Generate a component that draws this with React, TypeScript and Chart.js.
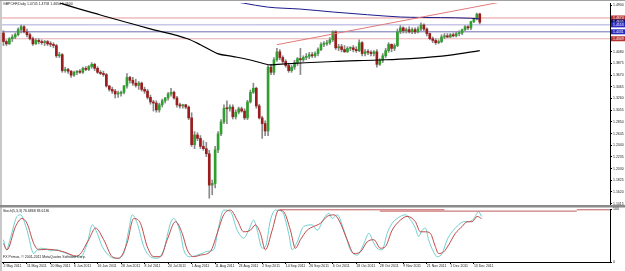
import React, { useEffect, useRef } from "react";
import { Chart, registerables } from "chart.js";

Chart.register(...registerables);

const FONT = "'Liberation Sans', Arial, sans-serif";
const TEXT = "#1a1a1a";
const FS = 3.5;

// ---- Daily candles (bar index 0 = 2 May 2011) ----
const barOpen = [
  1.441, 1.426, 1.422, 1.431, 1.434, 1.438, 1.447, 1.452, 1.443, 1.438,
  1.431, 1.422, 1.428, 1.426, 1.424, 1.426, 1.422, 1.421, 1.419, 1.401,
  1.403, 1.375, 1.377, 1.374, 1.367, 1.372, 1.374, 1.372, 1.379, 1.377,
  1.382, 1.386, 1.379, 1.372, 1.370, 1.368, 1.348, 1.342, 1.339, 1.334,
  1.335, 1.337, 1.348, 1.363, 1.358, 1.353, 1.349, 1.353, 1.342, 1.339,
  1.328, 1.320, 1.318, 1.306, 1.315, 1.322, 1.327, 1.334, 1.337, 1.327,
  1.315, 1.313, 1.315, 1.311, 1.292, 1.245, 1.262, 1.256, 1.242, 1.238,
  1.229, 1.174, 1.177, 1.236, 1.264, 1.285, 1.309, 1.308, 1.311, 1.294,
  1.302, 1.308, 1.304, 1.292, 1.320, 1.337, 1.344, 1.313, 1.292, 1.282,
  1.269, 1.381, 1.372, 1.394, 1.408, 1.398, 1.391, 1.384, 1.375, 1.381,
  1.389, 1.396, 1.394, 1.398, 1.400, 1.403, 1.401, 1.405, 1.412, 1.421,
  1.422, 1.424, 1.429, 1.443, 1.415, 1.417, 1.412, 1.408, 1.414, 1.415,
  1.412, 1.410, 1.424, 1.405, 1.408, 1.407, 1.405, 1.408, 1.386, 1.393,
  1.401, 1.410, 1.421, 1.414, 1.419, 1.443, 1.450, 1.445, 1.447, 1.443,
  1.447, 1.443, 1.448, 1.455, 1.448, 1.440, 1.431, 1.428, 1.424, 1.426,
  1.434, 1.436, 1.434, 1.438, 1.436, 1.440, 1.441, 1.447, 1.452, 1.450,
  1.461, 1.466, 1.4745,
];
const barHigh = [
  1.445, 1.429, 1.433, 1.438, 1.441, 1.450, 1.455, 1.454, 1.448, 1.441,
  1.434, 1.431, 1.431, 1.429, 1.428, 1.428, 1.426, 1.424, 1.421, 1.407,
  1.405, 1.381, 1.379, 1.375, 1.374, 1.375, 1.377, 1.381, 1.382, 1.384,
  1.389, 1.388, 1.382, 1.375, 1.374, 1.370, 1.349, 1.346, 1.342, 1.339,
  1.339, 1.349, 1.370, 1.365, 1.363, 1.360, 1.356, 1.355, 1.346, 1.342,
  1.332, 1.323, 1.322, 1.318, 1.325, 1.328, 1.337, 1.344, 1.339, 1.330,
  1.318, 1.316, 1.316, 1.313, 1.301, 1.268, 1.266, 1.261, 1.252, 1.249,
  1.235, 1.183, 1.242, 1.268, 1.289, 1.315, 1.322, 1.315, 1.315, 1.306,
  1.311, 1.311, 1.308, 1.323, 1.341, 1.353, 1.346, 1.316, 1.295, 1.287,
  1.384, 1.386, 1.398, 1.414, 1.412, 1.401, 1.394, 1.388, 1.384, 1.393,
  1.398, 1.414, 1.401, 1.405, 1.407, 1.407, 1.408, 1.415, 1.424, 1.426,
  1.428, 1.433, 1.445, 1.445, 1.421, 1.421, 1.419, 1.417, 1.417, 1.419,
  1.417, 1.429, 1.426, 1.412, 1.412, 1.410, 1.410, 1.412, 1.396, 1.405,
  1.414, 1.424, 1.422, 1.422, 1.448, 1.454, 1.452, 1.450, 1.452, 1.450,
  1.450, 1.452, 1.459, 1.457, 1.450, 1.441, 1.434, 1.431, 1.429, 1.438,
  1.440, 1.440, 1.440, 1.441, 1.443, 1.445, 1.448, 1.454, 1.454, 1.462,
  1.467, 1.476, 1.4758,
];
const barLow = [
  1.419, 1.419, 1.421, 1.426, 1.431, 1.436, 1.441, 1.441, 1.434, 1.429,
  1.419, 1.421, 1.422, 1.421, 1.419, 1.419, 1.417, 1.415, 1.398, 1.398,
  1.372, 1.372, 1.370, 1.363, 1.365, 1.368, 1.370, 1.370, 1.375, 1.375,
  1.379, 1.375, 1.370, 1.368, 1.365, 1.346, 1.339, 1.335, 1.327, 1.328,
  1.330, 1.334, 1.344, 1.353, 1.349, 1.346, 1.342, 1.339, 1.335, 1.325,
  1.316, 1.304, 1.302, 1.302, 1.311, 1.318, 1.323, 1.330, 1.325, 1.311,
  1.309, 1.309, 1.308, 1.289, 1.242, 1.238, 1.252, 1.238, 1.235, 1.224,
  1.151, 1.157, 1.169, 1.231, 1.261, 1.282, 1.282, 1.304, 1.290, 1.290,
  1.299, 1.302, 1.289, 1.289, 1.318, 1.335, 1.309, 1.290, 1.256, 1.261,
  1.261, 1.368, 1.368, 1.391, 1.394, 1.388, 1.381, 1.372, 1.372, 1.377,
  1.384, 1.368, 1.391, 1.394, 1.396, 1.398, 1.398, 1.401, 1.410, 1.417,
  1.419, 1.421, 1.426, 1.412, 1.410, 1.408, 1.407, 1.407, 1.410, 1.408,
  1.407, 1.408, 1.401, 1.401, 1.403, 1.401, 1.401, 1.381, 1.384, 1.389,
  1.398, 1.407, 1.408, 1.410, 1.417, 1.440, 1.441, 1.441, 1.441, 1.440,
  1.440, 1.441, 1.445, 1.445, 1.436, 1.429, 1.424, 1.421, 1.422, 1.424,
  1.431, 1.433, 1.433, 1.434, 1.434, 1.436, 1.438, 1.445, 1.447, 1.447,
  1.459, 1.464, 1.4570,
];
const barClose = [
  1.426, 1.422, 1.431, 1.434, 1.438, 1.447, 1.452, 1.443, 1.438, 1.431,
  1.422, 1.428, 1.426, 1.424, 1.426, 1.422, 1.421, 1.419, 1.401, 1.403,
  1.375, 1.377, 1.374, 1.367, 1.372, 1.374, 1.372, 1.379, 1.377, 1.382,
  1.386, 1.379, 1.372, 1.370, 1.368, 1.348, 1.342, 1.339, 1.334, 1.335,
  1.337, 1.348, 1.363, 1.358, 1.353, 1.349, 1.353, 1.342, 1.339, 1.328,
  1.320, 1.318, 1.306, 1.315, 1.322, 1.327, 1.334, 1.337, 1.327, 1.315,
  1.313, 1.315, 1.311, 1.292, 1.245, 1.262, 1.256, 1.242, 1.238, 1.229,
  1.174, 1.177, 1.236, 1.264, 1.285, 1.309, 1.308, 1.311, 1.294, 1.302,
  1.308, 1.304, 1.292, 1.320, 1.337, 1.344, 1.313, 1.292, 1.282, 1.269,
  1.381, 1.372, 1.394, 1.408, 1.398, 1.391, 1.384, 1.375, 1.381, 1.389,
  1.396, 1.394, 1.398, 1.400, 1.403, 1.401, 1.405, 1.412, 1.421, 1.422,
  1.424, 1.429, 1.443, 1.415, 1.417, 1.412, 1.408, 1.414, 1.415, 1.412,
  1.410, 1.424, 1.405, 1.408, 1.407, 1.405, 1.408, 1.386, 1.393, 1.401,
  1.410, 1.421, 1.414, 1.419, 1.443, 1.450, 1.445, 1.447, 1.443, 1.447,
  1.443, 1.448, 1.455, 1.448, 1.440, 1.431, 1.428, 1.424, 1.426, 1.434,
  1.436, 1.434, 1.438, 1.436, 1.440, 1.441, 1.447, 1.452, 1.450, 1.461,
  1.466, 1.474, 1.4600,
];

// ---- Moving averages / drawn objects (bar index, price) ----
const blackMaBars = [16.7, 19.4, 33, 50, 62.6, 67, 72.8, 78.2, 84, 88.4, 90.8, 93.2, 112.2, 127.2, 138.4, 152, 162];
const blackMaVals = [1.4987, 1.4935, 1.4726, 1.4483, 1.4309, 1.4205, 1.4049, 1.3997, 1.3936, 1.3875, 1.3849, 1.3858, 1.391, 1.3936, 1.3962, 1.4023, 1.4101];
const blueMaBars = [75.5, 81.6, 89.8, 101, 112.2, 123.8, 135, 138.4, 158.8, 162];
const blueMaVals = [1.4987, 1.4935, 1.4865, 1.483, 1.4778, 1.4731, 1.4691, 1.4686, 1.4669, 1.4657];
const trendBars = [93, 175];
const trendVals = [1.4205, 1.5011];

const levelVals = [1.4674, 1.4553, 1.4431, 1.4309];
const levelColors = ["#e59a9a", "#a9a9dc", "#6c6cb4", "#e8b0b0"];
const markerVals = [1.4674, 1.4605, 1.4553, 1.4431, 1.4309];
const markerColors = ["#b83232", "#101070", "#2a2ac0", "#2a2ac0", "#b83232"];

const priceTicks = [1.49, 1.408, 1.3875, 1.367, 1.3465, 1.326, 1.3055, 1.285, 1.2645, 1.244, 1.2235, 1.203, 1.1825, 1.162, 1.1415];

// ---- Date axis ----
const dateLabels = [
  "2 May 2011", "11 May 2011", "20 May 2011", "6 Jun 2011", "16 Jun 2011", "28 Jun 2011",
  "8 Jul 2011", "20 Jul 2011", "1 Aug 2011", "11 Aug 2011", "23 Aug 2011", "2 Sep 2011",
  "14 Sep 2011", "26 Sep 2011", "6 Oct 2011", "18 Oct 2011", "28 Oct 2011", "9 Nov 2011",
  "21 Nov 2011", "1 Dec 2011", "13 Dec 2011",
];
const dateTickBars = [0, 8, 16, 24, 32, 40, 48, 56, 64, 72, 80, 88, 96, 104, 112, 120, 128, 136, 144, 152, 160];

// ---- Stochastic (5,3,3) ----
const stochKBars = [0, 1, 2.5, 4.6, 5.8, 8, 10.3, 11.5, 12.6, 14.9, 16, 18.3, 20, 21.7, 24, 26.2, 28.5, 30.2, 31.9, 33.6, 36.4, 38.7, 40.9, 42.6, 43.8, 45.5, 47.7, 50, 52.3, 54.5, 56.8, 57.9, 60.2, 61.3, 63.6, 65.9, 67.5, 69.3, 71.5, 73.2, 74.9, 77.2, 79.5, 81.7, 83.4, 85.1, 86.3, 88, 89.1, 90.8, 92.5, 94.8, 97, 98.2, 99.9, 102.1, 105, 106.7, 109, 110.7, 111.8, 113.5, 115.8, 118, 120.3, 122.6, 124.3, 126, 127.1, 128.8, 130.5, 132.2, 135, 136.7, 138.4, 140.1, 141.2, 142.4, 143.5, 144.6, 146.3, 147.5, 149.2, 150.9, 152.6, 154.8, 156.5, 158.2, 160, 161.6, 162.6];
const stochKVals = [42, 23, 48, 86, 89, 60, 16, 23, 26, 24, 21, 23, 19, 16, 10, 10, 35, 70, 54, 29, 10, 7, 16, 60, 89, 73, 29, 10, 7, 23, 73, 82, 54, 23, 10, 13, 16, 20, 23, 67, 98, 95, 60, 45, 60, 79, 60, 26, 29, 79, 98, 95, 54, 23, 38, 67, 70, 60, 82, 92, 82, 89, 60, 23, 13, 35, 54, 35, 26, 23, 54, 73, 86, 89, 80, 64, 48, 60, 64, 42, 19, 10, 16, 42, 57, 70, 76, 76, 82, 95, 86];
const stochDBars = [0, 1.2, 4.1, 6.3, 8, 10.3, 12, 14.9, 20, 25, 29, 31.3, 34.1, 37, 39.2, 42, 44.3, 46.6, 48.9, 51.1, 53.4, 55.7, 58.5, 60.8, 62.5, 64.7, 67, 70.4, 72.7, 74.9, 77.2, 79.5, 81.7, 84, 85.7, 87.4, 89.1, 91.4, 93.6, 95.3, 97.6, 99.3, 101, 103.3, 105.5, 107.8, 110.1, 112.4, 114.1, 116.9, 119.2, 121.4, 123.7, 126, 128.2, 129.9, 132.2, 135, 137.3, 140.1, 141.8, 143.5, 145.2, 146.9, 148, 149.7, 151.4, 153.7, 156, 157.7, 159.4, 161.1, 162.6];
const stochDVals = [35, 23, 67, 82, 73, 35, 23, 24, 20, 11, 42, 64, 42, 10, 7, 35, 82, 73, 29, 10, 10, 42, 76, 54, 23, 10, 13, 20, 54, 89, 98, 79, 57, 60, 70, 54, 23, 60, 98, 95, 60, 26, 42, 60, 67, 73, 86, 89, 79, 42, 16, 19, 38, 42, 26, 29, 60, 79, 86, 76, 57, 57, 54, 29, 16, 19, 32, 54, 67, 76, 76, 86, 82];
const stochLineBars = [[94, 150], [128, 195], [195, 206.3]];
const stochLineVals = [[98.5, 98.5], [96, 96], [98.5, 98.5]];

const titleMain = "GBPCHF,Daily 1.4745 1.4758 1.4654 1.4600";
const titleStoch = "Stoch(5,3,3) 76.6868 83.6136";
const copyright = "FX Primus, \u00A9 2001-2011 MetaQuotes Software Corp.";

const X_MIN = -0.5;
const X_MAX = 206.3;
const Y_MIN = 1.1391;
const Y_MAX = 1.4935;

const GREEN = "#2f9f2f";
const RED = "#9b1c1c";
const WICK = "#8a8a8a";

const pts = (xs: number[], ys: number[]) => xs.map((x, i) => ({ x, y: ys[i] }));

export default function App() {
  const mainRef = useRef<HTMLCanvasElement>(null);
  const subRef = useRef<HTMLCanvasElement>(null);

  useEffect(() => {
    document.body.style.margin = "0";
    const font = { family: FONT, size: FS };

    const wickData = barOpen.map((_, i) => ({ x: i, y: [barLow[i], barHigh[i]] }));
    const bodyData = barOpen.map((o, i) => ({ x: i, y: [o, barClose[i]] }));
    const bodyColors = barOpen.map((o, i) => (barClose[i] >= o ? GREEN : RED));

    const frame = {
      id: "frame",
      beforeDraw(chart: any) {
        const ctx = chart.ctx;
        ctx.save();
        ctx.fillStyle = "#ffffff";
        ctx.fillRect(0, 0, chart.width, chart.height);
        ctx.fillStyle = "#c8c8c8";
        ctx.fillRect(0, 0, 2, chart.height);
        ctx.restore();
      },
    };

    const mainDeco = {
      id: "mainDeco",
      beforeDraw(chart: any) {
        const ctx = chart.ctx;
        ctx.save();
        ctx.fillStyle = "#a0a0a0";
        ctx.fillRect(0, 0, chart.width, 1);
        ctx.restore();
      },
      afterDraw(chart: any) {
        const ctx = chart.ctx;
        const ys = chart.scales.y;
        ctx.save();
        ctx.font = `${FS}px ${FONT}`;
        ctx.textBaseline = "top";
        ctx.fillStyle = TEXT;
        ctx.fillText(titleMain, 3, 2);
        ctx.textBaseline = "middle";
        markerVals.forEach((v, i) => {
          const py = ys.getPixelForValue(v);
          ctx.fillStyle = markerColors[i];
          ctx.fillRect(ys.left + 1, py - 2.5, 14, 5);
          ctx.fillStyle = "#ffffff";
          ctx.fillText(v.toFixed(4), ys.left + 3, py + 0.3);
        });
        ctx.restore();
      },
    };

    const main = new Chart(mainRef.current as HTMLCanvasElement, {
      type: "bar",
      data: {
        datasets: [
          ...levelVals.map((v, i) => ({
            type: "line" as const,
            data: [{ x: X_MIN, y: v }, { x: X_MAX, y: v }],
            borderColor: levelColors[i],
            borderWidth: 1,
            pointRadius: 0,
            order: 5,
          })),
          {
            type: "bar" as const,
            data: wickData as any,
            backgroundColor: WICK,
            barThickness: 1,
            grouped: false,
            order: 4,
          },
          {
            type: "bar" as const,
            data: bodyData as any,
            backgroundColor: bodyColors,
            barThickness: 2,
            minBarLength: 1,
            grouped: false,
            order: 3,
          },
          {
            type: "line" as const,
            data: pts(blackMaBars, blackMaVals),
            borderColor: "#000000",
            borderWidth: 1.2,
            pointRadius: 0,
            cubicInterpolationMode: "monotone",
            order: 2,
          },
          {
            type: "line" as const,
            data: pts(blueMaBars, blueMaVals),
            borderColor: "#1c1c8c",
            borderWidth: 1,
            pointRadius: 0,
            cubicInterpolationMode: "monotone",
            order: 1,
          },
          {
            type: "line" as const,
            data: pts(trendBars, trendVals),
            borderColor: "#e07a7a",
            borderWidth: 1,
            pointRadius: 0,
            order: 0,
          },
        ] as any,
      },
      options: {
        animation: false,
        responsive: false,
        devicePixelRatio: 1,
        layout: { padding: { left: 2, top: 1, right: 0, bottom: 5 } },
        plugins: { legend: { display: false }, tooltip: { enabled: false } },
        scales: {
          x: { type: "linear", min: X_MIN, max: X_MAX, display: false, offset: false },
          y: {
            type: "linear",
            position: "right",
            min: Y_MIN,
            max: Y_MAX,
            afterBuildTicks: (s: any) => {
              s.ticks = priceTicks.map((v) => ({ value: v }));
            },
            afterFit: (s: any) => {
              s.width = 15;
            },
            ticks: {
              callback: (v: any) => Number(v).toFixed(4),
              font,
              color: TEXT,
              padding: 1,
            },
            grid: { drawOnChartArea: false, drawTicks: true, tickLength: 2, color: "#000" },
            border: { display: true, color: "#000", width: 1 },
          },
        },
      } as any,
      plugins: [frame, mainDeco],
    });

    const subDeco = {
      id: "subDeco",
      beforeDraw(chart: any) {
        const ctx = chart.ctx;
        ctx.save();
        ctx.fillStyle = "#8a8a8a";
        ctx.fillRect(0, 0, chart.width, 2.5);
        ctx.restore();
      },
      afterDraw(chart: any) {
        const ctx = chart.ctx;
        ctx.save();
        ctx.font = `${FS}px ${FONT}`;
        ctx.textBaseline = "top";
        ctx.fillStyle = TEXT;
        ctx.fillText(titleStoch, 3, 4.5);
        ctx.fillText(copyright, 3, 50);
        ctx.restore();
      },
    };

    const sub = new Chart(subRef.current as HTMLCanvasElement, {
      type: "line",
      data: {
        datasets: [
          ...stochLineBars.map((b, i) => ({
            data: pts(b, stochLineVals[i]),
            borderColor: "#c05a5a",
            borderWidth: 1,
            pointRadius: 0,
          })),
          {
            data: pts(stochDBars, stochDVals),
            borderColor: "#c24a4a",
            borderWidth: 1,
            pointRadius: 0,
            cubicInterpolationMode: "monotone",
          },
          {
            data: pts(stochKBars, stochKVals),
            borderColor: "#6fcfcf",
            borderWidth: 1,
            pointRadius: 0,
            cubicInterpolationMode: "monotone",
          },
        ] as any,
      },
      options: {
        animation: false,
        responsive: false,
        devicePixelRatio: 1,
        layout: { padding: { left: 2, top: 4, right: 0, bottom: 0 } },
        plugins: { legend: { display: false }, tooltip: { enabled: false } },
        scales: {
          x: {
            type: "linear",
            min: X_MIN,
            max: X_MAX,
            offset: false,
            afterBuildTicks: (s: any) => {
              s.ticks = dateTickBars.map((v) => ({ value: v }));
            },
            afterFit: (s: any) => {
              s.height = 9;
            },
            ticks: {
              callback: (_v: any, i: number) => dateLabels[i],
              font,
              color: TEXT,
              align: "start",
              maxRotation: 0,
              autoSkip: false,
              padding: 0,
            },
            grid: { drawOnChartArea: false, drawTicks: true, tickLength: 2, color: "#000" },
            border: { display: true, color: "#000", width: 1 },
          },
          y: {
            type: "linear",
            position: "right",
            min: 0,
            max: 100,
            afterBuildTicks: (s: any) => {
              s.ticks = [{ value: 0 }, { value: 100 }];
            },
            afterFit: (s: any) => {
              s.width = 15;
            },
            ticks: { callback: (v: any) => String(v), font, color: TEXT, padding: 1 },
            grid: { drawOnChartArea: false, drawTicks: true, tickLength: 2, color: "#000" },
            border: { display: true, color: "#000", width: 1 },
          },
        },
      } as any,
      plugins: [frame, subDeco],
    });

    return () => {
      main.destroy();
      sub.destroy();
    };
  }, []);

  return (
    <div style={{ position: "fixed", left: 0, top: 0, width: 625, height: 271, background: "#fff", overflow: "hidden" }}>
      <canvas ref={mainRef} width={625} height={210} style={{ position: "absolute", left: 0, top: 0 }} />
      <canvas ref={subRef} width={625} height={66} style={{ position: "absolute", left: 0, top: 205 }} />
    </div>
  );
}
